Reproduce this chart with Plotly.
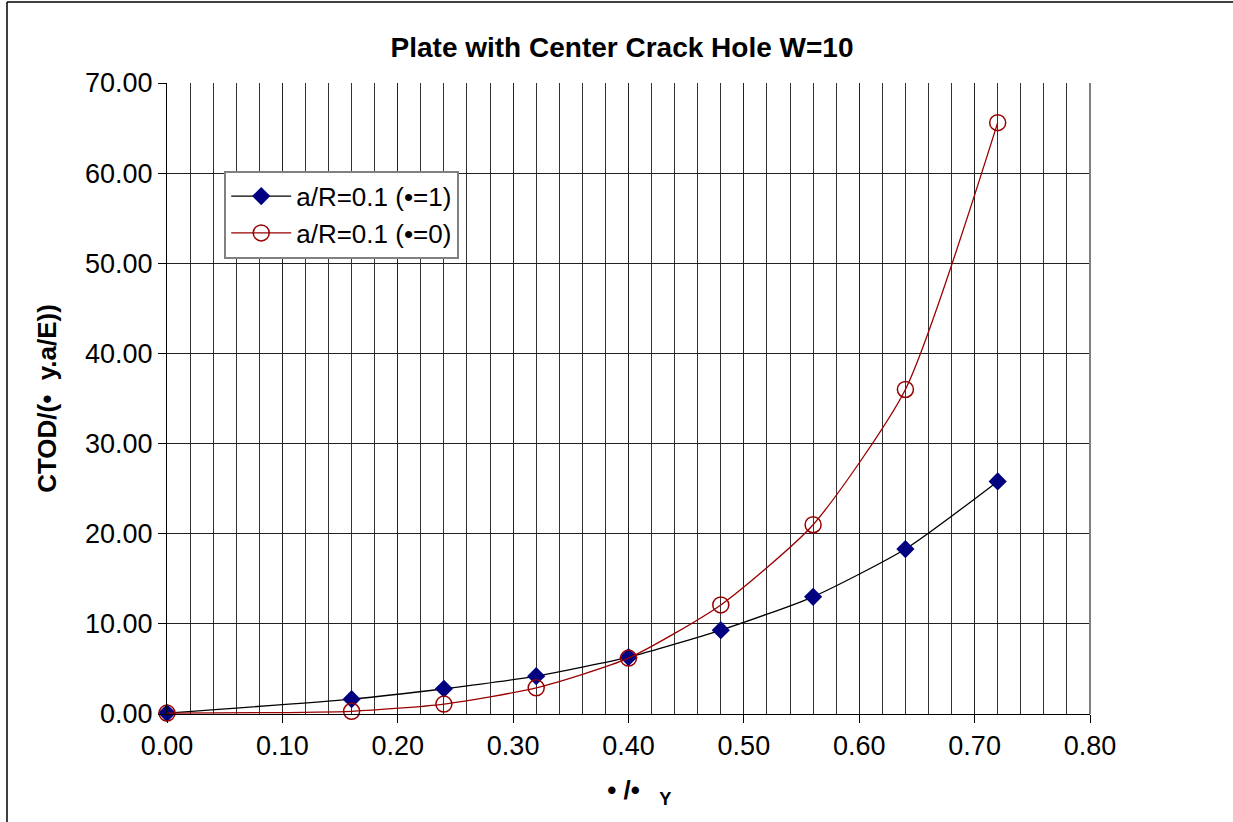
import plotly.graph_objects as go

x_vals = [0.0, 0.16, 0.24, 0.32, 0.40, 0.48, 0.56, 0.64, 0.72]
y_eta1 = [0.1, 1.65, 2.8, 4.2, 6.3, 9.3, 13.0, 18.3, 25.8]
y_eta0 = [0.1, 0.3, 1.1, 2.9, 6.2, 12.1, 21.0, 36.0, 65.6]
name1 = "a/R=0.1 (•=1)"
name2 = "a/R=0.1 (•=0)"
x_ticks = [0.0, 0.1, 0.2, 0.3, 0.4, 0.5, 0.6, 0.7, 0.8]
y_ticks = [0, 10, 20, 30, 40, 50, 60, 70]

fig = go.Figure()
fig.add_trace(go.Scatter(
    x=x_vals, y=y_eta1, name=name1, mode="lines+markers",
    line=dict(color="black", width=1.3, shape="spline", smoothing=0.6),
    marker=dict(symbol="diamond", size=14, color="#000080", line=dict(width=0)),
    cliponaxis=False,
))
fig.add_trace(go.Scatter(
    x=x_vals, y=y_eta0, name=name2, mode="lines+markers",
    line=dict(color="#990000", width=1.3, shape="spline", smoothing=0.6),
    marker=dict(symbol="circle-open", size=16, color="#990000", line=dict(width=1.5)),
    cliponaxis=False,
))

font = "Liberation Sans, Arial, sans-serif"
fig.update_layout(
    width=1233, height=822,
    margin=dict(l=167, r=143, t=83, b=108),
    paper_bgcolor="white", plot_bgcolor="white",
    font=dict(family=font, size=26, color="black"),
    title=dict(text="<b>Plate with Center Crack Hole W=10</b>", x=622/1233, xanchor="center",
               y=1-47/822, yanchor="middle", font=dict(size=28)),
    showlegend=True,
    legend=dict(x=0.062, y=0.861, xanchor="left", yanchor="top",
                bgcolor="white", bordercolor="#808080", borderwidth=2,
                font=dict(size=26), tracegroupgap=0, itemwidth=60),
    xaxis=dict(
        range=[0, 0.8], tickvals=x_ticks, ticktext=[f"{v:.2f}" for v in x_ticks],
        showgrid=True, gridcolor="#222222", gridwidth=1,
        minor=dict(dtick=0.02, tick0=0, showgrid=True, gridcolor="#333333", gridwidth=1),
        ticks="outside", ticklen=8, tickcolor="black",
        showline=True, linecolor="black", linewidth=1, mirror=False,
        zeroline=False,
        title=dict(text="<b>\u00a0\u00a0\u00a0• /•\u00a0\u00a0<sub>\u00a0Y</sub></b>", standoff=20, font=dict(size=26)),
        tickfont=dict(size=27),
    ),
    yaxis=dict(
        range=[0, 70], tickvals=y_ticks, ticktext=[f"{v:.2f}" for v in y_ticks],
        showgrid=True, gridcolor="#222222", gridwidth=1,
        ticks="outside", ticklen=8, tickcolor="black",
        showline=True, linecolor="black", linewidth=1,
        zeroline=False,
        title=dict(text="<b>CTOD/(•  y.a/E))</b>", standoff=20, font=dict(size=26)),
        tickfont=dict(size=27),
    ),
    shapes=[
        dict(type="line", xref="paper", yref="paper", x0=1, x1=1, y0=0, y1=1,
             line=dict(color="#808080", width=2)),
        dict(type="line", xref="paper", yref="paper", x0=(7-167)/923, x1=(7-167)/923,
             y0=-108/631, y1=(714-2)/631, line=dict(color="black", width=1.5)),
        dict(type="line", xref="paper", yref="paper", x0=(7-167)/923, x1=(1233-167)/923,
             y0=(714-2)/631, y1=(714-2)/631, line=dict(color="black", width=1.5)),
    ],
)

fig.write_html("out.html")
